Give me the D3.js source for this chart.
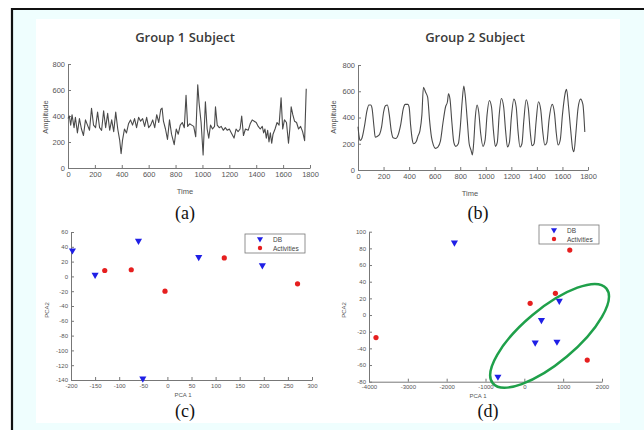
<!DOCTYPE html>
<html>
<head>
<meta charset="utf-8">
<script src="https://cdn.jsdelivr.net/npm/d3@7"></script>
<style>
  body { margin: 0; background: #fff; }
  svg { display: block; }
  .tick text { fill: #555; font-family: "Liberation Sans", Arial, sans-serif; }
  .axis path, .axis line { stroke: #777; }
</style>
</head>
<body>
<div id="viz"></div>
<script>
// Señal grupo 1 (tiempo, amplitud)
const timeA = [0,10,20,30,45,55,70,85,100,115,130,145,160,175,190,205,220,235,250,265,280,295,310,325,340,355,370,385,395,405,420,435,450,465,480,495,510,525,540,555,570,585,600,615,630,645,660,675,690,700,710,725,740,755,770,790,805,820,835,850,865,878,890,905,920,935,950,965,975,990,1005,1022,1035,1047,1060,1075,1090,1097,1110,1125,1140,1155,1170,1185,1200,1215,1235,1250,1265,1280,1292,1305,1320,1340,1355,1370,1385,1400,1415,1430,1445,1455,1465,1475,1485,1495,1505,1515,1525,1540,1555,1570,1585,1597,1610,1625,1640,1650,1660,1672,1685,1700,1715,1730,1745,1760,1772];
const ampA = [380,400,330,410,310,390,270,380,300,250,370,330,290,460,330,310,430,310,290,440,310,420,290,370,280,430,300,210,110,210,300,270,340,370,330,380,310,390,360,380,320,390,310,330,370,310,410,350,450,460,360,300,220,370,260,180,300,260,330,350,310,560,320,340,330,320,240,640,500,350,100,510,300,230,330,300,320,470,330,310,320,290,310,290,300,270,230,300,280,300,400,250,300,290,340,370,360,350,320,300,320,270,300,230,290,200,270,190,260,300,350,330,540,300,370,350,190,300,470,410,360,350,300,320,280,210,610];

// Señal grupo 2
const timeB = [0,8,16,30,50,70,85,100,110,125,135,150,170,185,200,215,230,245,260,275,295,315,335,355,370,390,400,412,425,435,455,470,485,500,512,530,545,560,575,590,605,625,645,665,685,700,708,720,735,750,765,785,800,815,828,840,855,870,885,895,905,918,932,945,960,978,995,1010,1028,1045,1060,1075,1090,1105,1122,1140,1155,1170,1185,1200,1220,1238,1252,1268,1283,1298,1316,1333,1348,1362,1378,1393,1412,1430,1445,1462,1478,1495,1520,1538,1552,1566,1583,1600,1625,1632,1648,1665,1680,1690,1705,1722,1742,1760,1775];
const ampB = [330,260,225,240,330,450,495,495,470,330,250,255,275,330,440,490,495,420,300,245,240,270,350,470,500,500,480,340,230,200,215,260,300,420,630,590,555,380,250,190,165,175,220,360,480,520,580,540,360,210,180,200,320,520,640,560,380,200,150,115,200,400,495,440,280,180,230,420,530,480,300,180,210,420,545,480,300,175,210,400,540,480,300,175,200,380,535,470,290,185,200,360,520,460,300,190,210,380,500,430,280,190,230,420,600,615,480,300,160,140,280,470,540,500,290];

const timeTicks = [0,200,400,600,800,1000,1200,1400,1600,1800];
const ampTicks = [0,200,400,600,800];

// PCA grupo 1 (c)
const pcaC_DB = [[-197,35],[-150,2],[-60,48],[-51,-138],[65,26],[197,15]];
const pcaC_Act = [[-130,8],[-75,9],[-5,-20],[118,25],[270,-10]];
const pcaC_xTicks = [-200,-150,-100,-50,0,50,100,150,200,250,300];
const pcaC_yTicks = [60,40,20,0,-20,-40,-60,-80,-100,-120,-140];

// PCA grupo 2 (d)
const pcaD_DB = [[-1800,87],[900,17],[440,-6],[280,-33],[840,-32],[-680,-74]];
const pcaD_Act = [[-3820,-27],[150,14],[800,26],[1170,78],[1620,-54]];
const pcaD_xTicks = [-4000,-3000,-2000,-1000,0,1000,2000];
const pcaD_yTicks = [100,80,60,40,20,0,-20,-40,-60,-80];
// Elipse: extremos del eje mayor (unidades de datos)
const ellipseD = [[-810,-82],[2110,32]];

const legendLabels = ['DB', 'Activities'];

const COLOR_LINE = '#4a4a4a', COLOR_DB = '#1f1fe6', COLOR_ACT = '#e61f1f', COLOR_ELLIPSE = '#1fa04a';

let svg = d3.select('#viz').append('svg')
    .attr('width', 644).attr('height', 430);

//Fondo
svg.append('rect').attr('x', 12).attr('y', 9).attr('width', 632).attr('height', 421).attr('fill', '#effefe');
svg.append('path').attr('d', 'M12,430 V9 H644').attr('fill', 'none').attr('stroke', '#111').attr('stroke-width', 2.2);
svg.append('rect').attr('x', 36).attr('y', 19).attr('width', 584).attr('height', 404).attr('fill', '#fff');

let fig = svg.append('g');

//Etiquetas con guion simple, sin separador de miles
const fmt = function(v) { return String(v); };

function drawAxes(g, x, y, xTicks, yTicks, fs, pad) {
    g.append('g').attr('class', 'axis')
        .attr('transform', 'translate(0,' + y.range()[0] + ')')
        .call(d3.axisBottom(x).tickValues(xTicks).tickFormat(fmt).tickSizeInner(-3).tickSizeOuter(0).tickPadding(pad))
        .call(function(a) { a.selectAll('text').style('font-size', fs + 'px'); });
    g.append('g').attr('class', 'axis')
        .attr('transform', 'translate(' + x.range()[0] + ',0)')
        .call(d3.axisLeft(y).tickValues(yTicks).tickFormat(fmt).tickSizeInner(-3).tickSizeOuter(0).tickPadding(3))
        .call(function(a) { a.selectAll('text').style('font-size', fs + 'px'); });
}

function axisTitle(g, txt, x, y, rot, fs) {
    g.append('text').attr('transform', 'translate(' + x + ',' + y + ')' + (rot ? ' rotate(-90)' : ''))
        .attr('text-anchor', 'middle').attr('font-family', 'Liberation Sans, Arial, sans-serif')
        .attr('font-size', fs).attr('fill', '#555').text(txt);
}

function panelLabel(txt, x, y) {
    fig.append('text').attr('x', x).attr('y', y).attr('text-anchor', 'middle')
        .attr('font-family', 'Liberation Serif, serif').attr('font-size', 18).attr('fill', '#111').text(txt);
}

function title(txt, x, y) {
    fig.append('text').attr('x', x).attr('y', y).attr('text-anchor', 'middle')
        .attr('font-family', 'Open Sans, sans-serif').attr('font-size', 13).attr('font-weight', 600)
        .attr('fill', '#3a3a3a').text(txt);
}

///// SERIES TEMPORALES
function lineChart(times, amps, xr, yr, curve) {
    let g = fig.append('g');
    let x = d3.scaleLinear().domain([0, 1800]).range(xr);
    let y = d3.scaleLinear().domain([0, 800]).range(yr);
    drawAxes(g, x, y, timeTicks, ampTicks, 7.5, 4);
    let line = d3.line().curve(curve)
        .x(function(d) { return x(times[d]); }).y(function(d) { return y(amps[d]); });
    g.append('path').datum(d3.range(times.length))
        .attr('d', line).attr('fill', 'none').attr('stroke', COLOR_LINE).attr('stroke-width', 1.1)
        .attr('stroke-linejoin', 'round');
    return g;
}

let gA = lineChart(timeA, ampA, [68, 310], [168, 64], d3.curveLinear);
title('Group 1 Subject', 185, 42);
axisTitle(gA, 'Time', 185, 194, false, 7.5);
axisTitle(gA, 'Amplitude', 48, 117, true, 7.5);
panelLabel('(a)', 185, 219);

let gB = lineChart(timeB, ampB, [358, 588], [170, 65], d3.curveMonotoneX);
title('Group 2 Subject', 475, 42);
axisTitle(gB, 'Time', 470, 196, false, 7.5);
axisTitle(gB, 'Amplitude', 336, 117, true, 7.5);
panelLabel('(b)', 478, 219);

///// PCA
function scatter(db, act, xd, yd, xr, yr, xTicks, yTicks) {
    let g = fig.append('g');
    let x = d3.scaleLinear().domain(xd).range(xr);
    let y = d3.scaleLinear().domain(yd).range(yr);
    drawAxes(g, x, y, xTicks, yTicks, 6, 3.5);
    g.selectAll('.db').data(db).enter().append('path')
        .attr('class', 'db')
        .attr('d', d3.symbol().type(d3.symbolTriangle).size(22))
        .attr('transform', function(d) { return 'translate(' + x(d[0]) + ',' + y(d[1]) + ') rotate(180)'; })
        .attr('fill', COLOR_DB);
    g.selectAll('.act').data(act).enter().append('circle')
        .attr('class', 'act')
        .attr('cx', function(d) { return x(d[0]); })
        .attr('cy', function(d) { return y(d[1]); })
        .attr('r', 2.6).attr('fill', COLOR_ACT);
    return { g: g, x: x, y: y };
}

function legend(g, lx, ly) {
    g.append('rect').attr('x', lx).attr('y', ly).attr('width', 60).attr('height', 19)
        .attr('fill', '#fff').attr('stroke', '#777').attr('stroke-width', 0.8);
    legendLabels.forEach(function(lab, i) {
        let cy = ly + 5 + i * 9;
        if (i == 0) {
            g.append('path').attr('d', d3.symbol().type(d3.symbolTriangle).size(16))
                .attr('transform', 'translate(' + (lx + 15) + ',' + cy + ') rotate(180)').attr('fill', COLOR_DB);
        } else {
            g.append('circle').attr('cx', lx + 15).attr('cy', cy).attr('r', 2.2).attr('fill', COLOR_ACT);
        }
        g.append('text').attr('x', lx + 28).attr('y', cy + 2.5)
            .attr('font-family', 'Liberation Sans, Arial, sans-serif').attr('font-size', 6.5)
            .attr('fill', '#444').text(lab);
    });
}

let c = scatter(pcaC_DB, pcaC_Act, [-200, 300], [-140, 60], [71, 312], [380, 232], pcaC_xTicks, pcaC_yTicks);
legend(c.g, 245, 234);
axisTitle(c.g, 'PCA 1', 183, 397, false, 6);
axisTitle(c.g, 'PCA2', 49, 310, true, 6);
panelLabel('(c)', 185, 417);

let d = scatter(pcaD_DB, pcaD_Act, [-4000, 2000], [-80, 100], [369, 602], [381.7, 231.7], pcaD_xTicks, pcaD_yTicks);
legend(d.g, 539, 225);
axisTitle(d.g, 'PCA 1', 478, 398, false, 6);
axisTitle(d.g, 'PCA2', 346, 310, true, 6);
panelLabel('(d)', 488, 417);

//Elipse verde
let p1 = [d.x(ellipseD[0][0]), d.y(ellipseD[0][1])],
    p2 = [d.x(ellipseD[1][0]), d.y(ellipseD[1][1])];
let ang = Math.atan2(p2[1] - p1[1], p2[0] - p1[0]) * 180 / Math.PI;
d.g.append('ellipse')
    .attr('cx', 0).attr('cy', 0)
    .attr('rx', Math.hypot(p2[0] - p1[0], p2[1] - p1[1]) / 2).attr('ry', 27)
    .attr('transform', 'translate(' + (p1[0] + p2[0]) / 2 + ',' + (p1[1] + p2[1]) / 2 + ') rotate(' + ang + ')')
    .attr('fill', 'none').attr('stroke', COLOR_ELLIPSE).attr('stroke-width', 2.5);
</script>
</body>
</html>
